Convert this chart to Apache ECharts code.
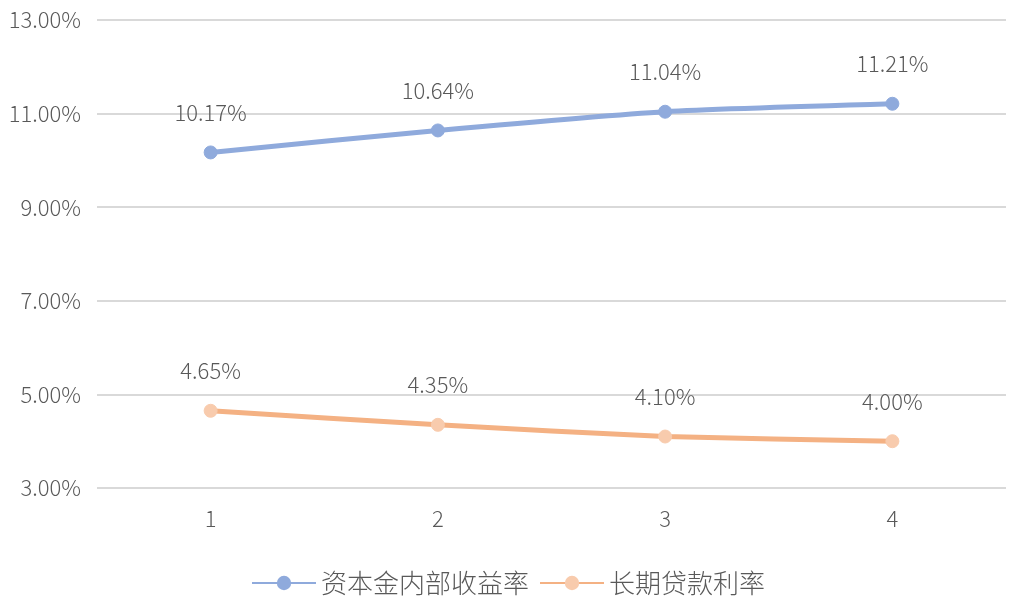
<!DOCTYPE html>
<html>
<head>
<meta charset="utf-8">
<script src="https://cdn.jsdelivr.net/npm/echarts@6/dist/echarts.min.js"></script>
<style>html,body{margin:0;padding:0;background:#fff}#chart{width:1016px;height:605px}</style>
</head>
<body>
<div id="chart"></div>
<script>
const categories = ['1', '2', '3', '4'];
const irrValues = [10.17, 10.64, 11.04, 11.21];
const loanValues = [4.65, 4.35, 4.10, 4.00];
const seriesNames = ['资本金内部收益率', '长期贷款利率'];

const chart = echarts.init(document.getElementById('chart'));
const font = '"Noto Sans CJK SC", "Open Sans", sans-serif';
const label = {
  show: true,
  position: 'top',
  distance: 22,
  fontSize: 22,
  fontWeight: 300,
  color: '#595959',
  fontFamily: font,
  formatter: p => p.value.toFixed(2) + '%'
};
chart.setOption({
  animation: false,
  grid: { left: 97, right: 10, top: 20, bottom: 117 },
  legend: {
    bottom: 4,
    itemWidth: 64,
    itemHeight: 18,
    itemGap: 10,
    textStyle: { fontSize: 26, fontWeight: 300, color: '#595959', fontFamily: font }
  },
  xAxis: {
    type: 'category',
    data: categories,
    axisLine: { show: false },
    axisTick: { show: false },
    axisLabel: { fontSize: 22, fontWeight: 300, color: '#595959', margin: 20, fontFamily: font }
  },
  yAxis: {
    type: 'value',
    min: 3,
    max: 13,
    interval: 2,
    axisLabel: { fontSize: 22, fontWeight: 300, color: '#595959', margin: 16, fontFamily: font,
      formatter: v => v.toFixed(2) + '%' },
    splitLine: { lineStyle: { color: '#d9d9d9', width: 2 } }
  },
  series: [
    {
      name: seriesNames[0], type: 'line', data: irrValues, smooth: 0.2,
      symbol: 'circle', symbolSize: 13,
      lineStyle: { width: 5, color: '#8faadc' },
      itemStyle: { color: '#8faadc', borderColor: '#8faadc' },
      label
    },
    {
      name: seriesNames[1], type: 'line', data: loanValues, smooth: 0.2,
      symbol: 'circle', symbolSize: 13,
      lineStyle: { width: 5, color: '#f4b183' },
      itemStyle: { color: '#f8cbad', borderColor: '#f8cbad' },
      label
    }
  ]
});
</script>
</body>
</html>
